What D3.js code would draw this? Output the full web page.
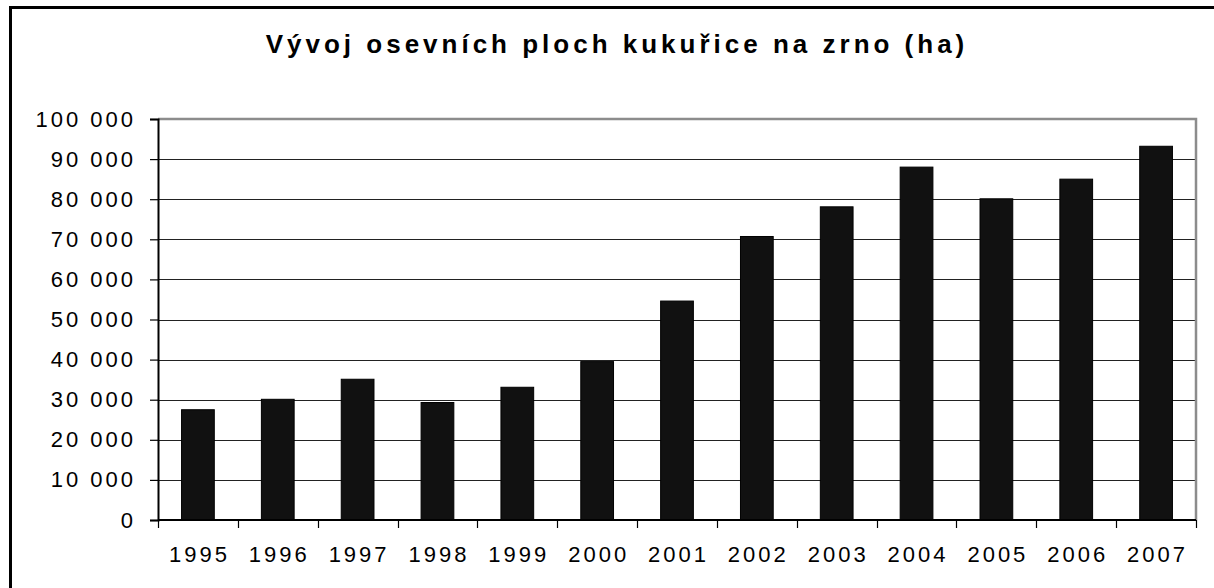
<!DOCTYPE html>
<html>
<head>
<meta charset="utf-8">
<script src="https://cdn.jsdelivr.net/npm/d3@7.9.0/dist/d3.min.js"></script>
<style>
  html, body { margin: 0; padding: 0; background: #fff; }
  svg { display: block; font-family: Arial, "Liberation Sans", sans-serif; }
</style>
</head>
<body>
<div id="chart"></div>
<script>
const years = ['1995', '1996', '1997', '1998', '1999', '2000', '2001', '2002', '2003', '2004', '2005', '2006', '2007'];
const areas = [27500, 30100, 35100, 29300, 33100, 39500, 54600, 70700, 78100, 88000, 80100, 85000, 93200];
const yTicks = [0, 10000, 20000, 30000, 40000, 50000, 60000, 70000, 80000, 90000, 100000];
const title = 'Vývoj osevních ploch kukuřice na zrno (ha)';

const width = 1214;
const height = 588;
const plot = { left: 158, right: 1196, top: 119, bottom: 520 };

const svg = d3.select('#chart')
  .append('svg')
  .attr('width', width)
  .attr('height', height);

svg.append('rect')
  .attr('width', width)
  .attr('height', height)
  .attr('fill', '#fff');

// outer frame, clipped on the right and bottom like the original
svg.append('rect')
  .attr('x', 10.5)
  .attr('y', 7.5)
  .attr('width', 1400)
  .attr('height', 800)
  .attr('fill', 'none')
  .attr('stroke', '#000')
  .attr('stroke-width', 3);

svg.append('text')
  .attr('x', 617)
  .attr('y', 53)
  .attr('text-anchor', 'middle')
  .attr('font-size', 26)
  .attr('font-weight', 'bold')
  .attr('letter-spacing', 4)
  .text(title);

const x = d3.scaleBand()
  .domain(years)
  .range([plot.left, plot.right])
  .paddingInner(0.59)
  .paddingOuter(0.295);

const y = d3.scaleLinear()
  .domain([0, 100000])
  .range([plot.bottom, plot.top]);

const fmt = (d) => d3.format(',')(d).replace(/,/g, ' ');

// gridlines
svg.append('g')
  .selectAll('line')
  .data(yTicks.filter((d) => d > 0 && d < 100000))
  .join('line')
  .attr('x1', plot.left)
  .attr('x2', plot.right)
  .attr('y1', (d) => Math.round(y(d)) + 0.5)
  .attr('y2', (d) => Math.round(y(d)) + 0.5)
  .attr('stroke', '#222')
  .attr('stroke-width', 1.2);

// plot frame (top + right grey)
svg.append('path')
  .attr('d', `M${plot.left},${plot.top} H${plot.right} V${plot.bottom}`)
  .attr('fill', 'none')
  .attr('stroke', '#8c8c8c')
  .attr('stroke-width', 2.5);

// bars
svg.append('g')
  .selectAll('rect')
  .data(years)
  .join('rect')
  .attr('x', (d) => x(d))
  .attr('y', (d, i) => y(areas[i]))
  .attr('width', x.bandwidth())
  .attr('height', (d, i) => y(0) - y(areas[i]))
  .attr('fill', '#111')
  .attr('stroke', '#000')
  .attr('stroke-width', 1);

// y axis
const yAxis = d3.axisLeft(y)
  .tickValues(yTicks)
  .tickSize(8)
  .tickPadding(14)
  .tickFormat(fmt);

const gy = svg.append('g')
  .attr('transform', `translate(${plot.left},0)`)
  .call(yAxis);

gy.select('.domain').attr('stroke', '#000').attr('stroke-width', 2);
gy.selectAll('.tick line').attr('stroke', '#000').attr('stroke-width', 1.2);
gy.selectAll('.tick text')
  .attr('font-family', 'Arial, "Liberation Sans", sans-serif')
  .attr('font-size', 22)
  .attr('letter-spacing', 3)
  .attr('fill', '#000');

// x axis: ticks sit on category boundaries
const step = x.step();
const boundaries = d3.range(years.length + 1).map((i) => plot.left + i * step);

svg.append('line')
  .attr('x1', plot.left)
  .attr('x2', plot.right)
  .attr('y1', plot.bottom)
  .attr('y2', plot.bottom)
  .attr('stroke', '#000')
  .attr('stroke-width', 2);

svg.append('g')
  .selectAll('line')
  .data(boundaries)
  .join('line')
  .attr('x1', (d) => Math.round(d) + 0.5)
  .attr('x2', (d) => Math.round(d) + 0.5)
  .attr('y1', plot.bottom)
  .attr('y2', plot.bottom + 8)
  .attr('stroke', '#000')
  .attr('stroke-width', 1.2);

svg.append('g')
  .selectAll('text')
  .data(years)
  .join('text')
  .attr('x', (d) => x(d) + x.bandwidth() / 2 + 1.5)
  .attr('y', 562)
  .attr('text-anchor', 'middle')
  .attr('font-size', 22)
  .attr('letter-spacing', 3)
  .text((d) => d);
</script>
</body>
</html>
